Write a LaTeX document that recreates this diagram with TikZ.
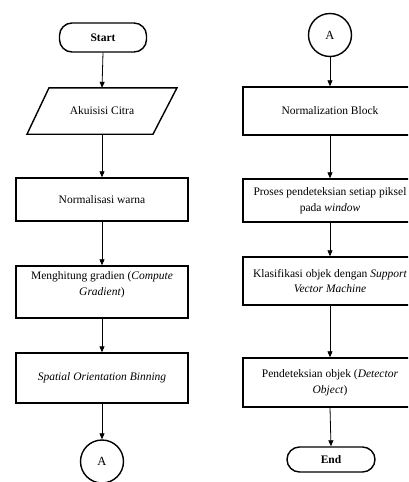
\documentclass[tikz,border=0pt]{standalone}
\usepackage{fontspec}
\setmainfont{Liberation Serif}
\usetikzlibrary{arrows.meta,shapes.geometric}
\begin{document}
\begin{tikzpicture}[x=1pt,y=-1pt,
  txt/.style={font=\fontsize{11.5}{15.5}\selectfont,align=center,inner sep=1pt},
  box/.style={draw,line width=1.4pt,minimum width=172pt,inner sep=2pt,align=center,font=\fontsize{11.5}{15.5}\selectfont},
  term/.style={draw,line width=1.4pt,rounded corners=12.5pt,font=\fontsize{11.5}{14}\selectfont\bfseries},
  conn/.style={circle,draw,line width=1.4pt,minimum size=43pt,inner sep=0pt,font=\fontsize{12.5}{14}\selectfont},
  arr/.style={-{Triangle[width=5pt,length=6pt]},line width=0.8pt}]
\useasboundingbox (0,0) rectangle (408,482);
\clip (0,0) rectangle (408,482);
% left column
\node[term,minimum width=87pt,minimum height=29pt] (start) at (103,37.5) {Start};
\node[txt,minimum width=150pt,minimum height=46pt] (akt) at (102,111) {Akuisisi Citra};
\draw[line width=1.4pt] ([xshift=-53pt]akt.north) -- ([xshift=75pt]akt.north) -- ([xshift=51pt]akt.south) -- ([xshift=-75pt]akt.south) -- cycle;
\node[box,minimum height=43pt] (norm) at (102,199.5) {Normalisasi warna};
\node[box,minimum height=52pt] (grad) at (102,292) {};
\node[txt] (gradt) at (102,284.5) {Menghitung gradien (\textit{Compute}\\\textit{Gradient})};
\node[box,minimum height=50pt] (bin) at (102,378) {\textit{Spatial Orientation Binning}};
\node[conn] (a1) at (102,461.5) {A};
% right column
\node[conn] (a2) at (330,35) {A};
\node[box,minimum width=174pt,minimum height=48pt] (nb) at (330,111) {Normalization Block};
\node[box,minimum width=174pt,minimum height=43pt] (pp) at (330,200.5) {Proses pendeteksian setiap piksel\\pada \textit{window}};
\node[box,minimum width=174pt,minimum height=48pt] (svm) at (330,281) {Klasifikasi objek dengan \textit{Support}\\\textit{Vector Machine}};
\node[box,minimum width=174pt,minimum height=49pt] (det) at (330,382.5) {Pendeteksian objek (\textit{Detector}\\\textit{Object})};
\node[term,minimum width=88pt,minimum height=25pt] (end) at (331,459.5) {End};
% arrows
\draw[arr] (start.south) -- (akt.north);
\draw[arr] (akt.south) -- (norm.north);
\draw[arr] (norm.south) -- (grad.north);
\draw[arr] (grad.south) -- (bin.north);
\draw[arr] (bin.south) -- (a1.north);
\draw[arr] (a2.south) -- (nb.north);
\draw[arr] (nb.south) -- (pp.north);
\draw[arr] (pp.south) -- (svm.north);
\draw[arr] (svm.south) -- (det.north);
\draw[arr] (det.south) -- (end.north);
\end{tikzpicture}
\end{document}
